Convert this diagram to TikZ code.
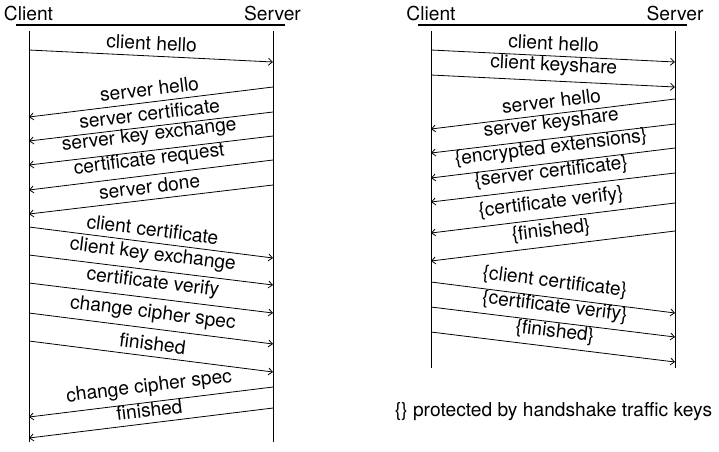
\documentclass[tikz,border=0pt]{standalone}
\usepackage{fontspec}
\setmainfont{TeX Gyre Heros}
\usetikzlibrary{arrows.meta}
\begin{document}
\begin{tikzpicture}[x=1pt,y=-1pt,
  every node/.style={font=\fontsize{19.2}{22}\selectfont},
  title/.style={anchor=base, inner sep=0pt},
  headline/.style={line width=1.3pt},
  lifeline/.style={line width=0.8pt},
  msg/.style={line width=0.8pt, -{Straight Barb[length=4pt,width=7pt]}},
  lbl/.style={midway, sloped, above, inner sep=5.5pt}]
\useasboundingbox (0,0) rectangle (719,451);
% ---------- left diagram (TLS 1.2) ----------
\node[title] (lclient) at (28.5,20.5) {Client};
\node[title] (lserver) at (272.5,20.5) {Server};
\coordinate (lh1) at (16,25); \coordinate (lh2) at (285,25);
\draw[headline] (lh1) -- (lh2);
\coordinate (lct) at (29,31); \coordinate (lcb) at (29,442);
\coordinate (lst) at (273,31); \coordinate (lsb) at (273,442);
\draw[lifeline] (lct) -- (lcb);
\draw[lifeline] (lst) -- (lsb);
\coordinate (la1) at (29,50);   \coordinate (lb1) at (273,62);
\coordinate (la2) at (273,87);  \coordinate (lb2) at (29,117);
\coordinate (la3) at (273,112); \coordinate (lb3) at (29,141);
\coordinate (la4) at (273,136); \coordinate (lb4) at (29,165);
\coordinate (la5) at (273,160); \coordinate (lb5) at (29,190);
\coordinate (la6) at (273,185); \coordinate (lb6) at (29,214);
\coordinate (la7) at (29,227);  \coordinate (lb7) at (273,258);
\coordinate (la8) at (29,255);  \coordinate (lb8) at (273,285);
\coordinate (la9) at (29,283);  \coordinate (lb9) at (273,313);
\coordinate (la10) at (29,313); \coordinate (lb10) at (273,344);
\coordinate (la11) at (29,341); \coordinate (lb11) at (273,372);
\coordinate (la12) at (273,387);\coordinate (lb12) at (29,417);
\coordinate (la13) at (273,408);\coordinate (lb13) at (29,438);
\draw[msg] (la1) -- node[lbl] (lt1) {client hello} (lb1);
\draw[msg] (la2) -- node[lbl] (lt2) {server hello} (lb2);
\draw[msg] (la3) -- node[lbl] (lt3) {server certificate} (lb3);
\draw[msg] (la4) -- node[lbl] (lt4) {server key exchange} (lb4);
\draw[msg] (la5) -- node[lbl] (lt5) {certificate request} (lb5);
\draw[msg] (la6) -- node[lbl] (lt6) {server done} (lb6);
\draw[msg] (la7) -- node[lbl] (lt7) {client certificate} (lb7);
\draw[msg] (la8) -- node[lbl] (lt8) {client key exchange} (lb8);
\draw[msg] (la9) -- node[lbl] (lt9) {certificate verify} (lb9);
\draw[msg] (la10) -- node[lbl] (lt10) {change cipher spec} (lb10);
\draw[msg] (la11) -- node[lbl] (lt11) {finished} (lb11);
\draw[msg] (la12) -- node[lbl] (lt12) {change cipher spec} (lb12);
\draw[msg] (la13) -- node[lbl] (lt13) {finished} (lb13);
% ---------- right diagram (TLS 1.3) ----------
\node[title] (rclient) at (431,20.5) {Client};
\node[title] (rserver) at (675,20.5) {Server};
\coordinate (rh1) at (418,25); \coordinate (rh2) at (687,25);
\draw[headline] (rh1) -- (rh2);
\coordinate (rct) at (431,31); \coordinate (rcb) at (431,368);
\coordinate (rst) at (675,31); \coordinate (rsb) at (675,368);
\draw[lifeline] (rct) -- (rcb);
\draw[lifeline] (rst) -- (rsb);
\coordinate (ra1) at (431,50);  \coordinate (rb1) at (675,62);
\coordinate (ra2) at (431,75);  \coordinate (rb2) at (675,87);
\coordinate (ra3) at (675,99);  \coordinate (rb3) at (431,129);
\coordinate (ra4) at (675,124); \coordinate (rb4) at (431,153);
\coordinate (ra5) at (675,148); \coordinate (rb5) at (431,178);
\coordinate (ra6) at (675,173); \coordinate (rb6) at (431,202);
\coordinate (ra7) at (675,203); \coordinate (rb7) at (431,233);
\coordinate (ra8) at (675,231); \coordinate (rb8) at (431,261);
\coordinate (ra9) at (431,282); \coordinate (rb9) at (675,313);
\coordinate (ra10) at (431,307);\coordinate (rb10) at (675,337);
\coordinate (ra11) at (431,332);\coordinate (rb11) at (675,362);
\draw[msg] (ra1) -- node[lbl] (rt1) {client hello} (rb1);
\draw[msg] (ra2) -- node[lbl] (rt2) {client keyshare} (rb2);
\draw[msg] (ra3) -- node[lbl] (rt3) {server hello} (rb3);
\draw[msg] (ra4) -- node[lbl] (rt4) {server keyshare} (rb4);
\draw[msg] (ra5) -- node[lbl] (rt5) {\{encrypted extensions\}} (rb5);
\draw[msg] (ra6) -- node[lbl] (rt6) {\{server certificate\}} (rb6);
\draw[msg] (ra7) -- node[lbl] (rt7) {\{certificate verify\}} (rb7);
\draw[msg] (ra8) -- node[lbl] (rt8) {\{finished\}} (rb8);
\draw[msg] (ra9) -- node[lbl] (rt9) {\{client certificate\}} (rb9);
\draw[msg] (ra10) -- node[lbl] (rt10) {\{certificate verify\}} (rb10);
\draw[msg] (ra11) -- node[lbl] (rt11) {\{finished\}} (rb11);
\node[title] (note) at (553.5,416) {\{\} protected by handshake traffic keys};
\end{tikzpicture}
\end{document}
